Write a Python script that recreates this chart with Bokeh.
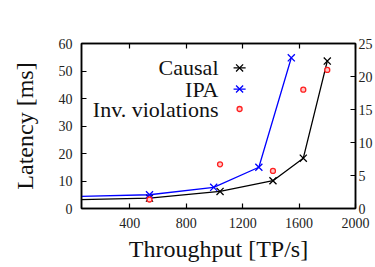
from bokeh.plotting import figure
from bokeh.models import Range1d, LinearAxis, FixedTicker
from bokeh.core.properties import value
from bokeh.embed import file_html
from bokeh.resources import INLINE

# ---- data ----
causal_tp = [0, 540, 1040, 1415, 1630, 1800]
causal_lat = [3.2, 3.8, 6.2, 10.1, 18.3, 53.6]
ipa_tp = [0, 540, 995, 1315, 1545]
ipa_lat = [4.35, 5.0, 7.7, 15.0, 54.8]
inv_tp = [540, 1040, 1415, 1630, 1800]
inv_viol = [1.36, 6.7, 5.7, 18.0, 21.0]

x_ticks = [400, 800, 1200, 1600, 2000]
y_ticks = [0, 10, 20, 30, 40, 50, 60]
y2_ticks = [0, 5, 10, 15, 20, 25]
legend_labels = ["Causal", "IPA", "Inv. violations"]

X0, X1 = 58, 2000
Y0, Y1 = 0, 60
Y2_0, Y2_1 = 0, 25

FONT = "Liberation Serif, Times New Roman, serif"

p = figure(width=375, height=267, output_backend="svg", toolbar_location=None,
           x_range=Range1d(X0, X1), y_range=Range1d(Y0, Y1),
           min_border_left=81, min_border_right=20, min_border_top=43, min_border_bottom=59)
p.extra_y_ranges = {"right": Range1d(Y2_0, Y2_1)}
p.xgrid.visible = False
p.ygrid.visible = False
p.outline_line_color = "black"
p.outline_line_width = 1.5
p.outline_line_alpha = 1.0
p.background_fill_color = "white"
p.border_fill_color = "white"

def style_axis(ax, ticks):
    ax.ticker = FixedTicker(ticks=ticks)
    ax.major_tick_in = 5
    ax.major_tick_out = 0
    ax.minor_tick_line_color = None
    ax.axis_line_width = 1.5
    ax.axis_line_color = "black"
    ax.major_tick_line_color = "black"
    ax.major_tick_line_width = 1.2
    ax.major_label_text_font = FONT
    ax.major_label_text_font_size = "14px"
    ax.major_label_text_color = "#222222"
    ax.axis_label_text_font = FONT
    ax.axis_label_text_font_style = "normal"
    ax.axis_label_text_font_size = "24px"
    ax.axis_label_text_color = "#111111"

xa = p.xaxis[0]
style_axis(xa, x_ticks)
xa.axis_label = "Throughput [TP/s]"
xa.major_label_standoff = 9
xa.axis_label_standoff = 5

ya = p.yaxis[0]
style_axis(ya, y_ticks)
ya.axis_label = "Latency [ms]"
ya.major_label_standoff = 9
ya.axis_label_standoff = 18

ra = LinearAxis(y_range_name="right")
style_axis(ra, y2_ticks)
ra.major_label_standoff = 3
p.add_layout(ra, "right")

ta = LinearAxis()
style_axis(ta, x_ticks)
ta.major_label_overrides = {t: "" for t in x_ticks}
ta.major_label_standoff = 0
ta.major_label_text_font_size = "1px"
p.add_layout(ta, "above")

# ---- series ----
p.line(causal_tp, causal_lat, line_color="black", line_width=1.3)
p.scatter(causal_tp, causal_lat, marker="x", size=10, line_color="black", line_width=1.3)
p.line(ipa_tp, ipa_lat, line_color="#0000ff", line_width=1.3)
p.scatter(ipa_tp, ipa_lat, marker="x", size=10, line_color="#0000ff", line_width=1.3)
p.scatter(inv_tp, inv_viol, marker="circle", size=5, line_color="#ff2020",
          fill_color="#ffc8c8", line_width=1.3, y_range_name="right")

# ---- legend (labels left of samples, as in the reference) ----
fx = lambda f: X0 + f * (X1 - X0)
fy = lambda f: Y0 + f * (Y1 - Y0)
text_x = fx(0.50)
mark_x = fx(0.577)
half = 0.022 * (X1 - X0)
rows = [fy(0.852), fy(0.724), fy(0.603)]

p.text([text_x] * 3, rows, text=legend_labels, text_align="right",
       text_baseline="middle", text_font=value(FONT), text_font_size="22px",
       text_color="#111111")
p.segment([mark_x - half], [rows[0]], [mark_x + half], [rows[0]], line_color="black", line_width=1.3)
p.scatter([mark_x], [rows[0]], marker="x", size=10, line_color="black", line_width=1.3)
p.segment([mark_x - half], [rows[1]], [mark_x + half], [rows[1]], line_color="#0000ff", line_width=1.3)
p.scatter([mark_x], [rows[1]], marker="x", size=10, line_color="#0000ff", line_width=1.3)
p.scatter([mark_x], [rows[2]], marker="circle", size=5, line_color="#ff2020",
          fill_color="#ffc8c8", line_width=1.3)

open("out.html", "w").write(file_html(p, INLINE))
